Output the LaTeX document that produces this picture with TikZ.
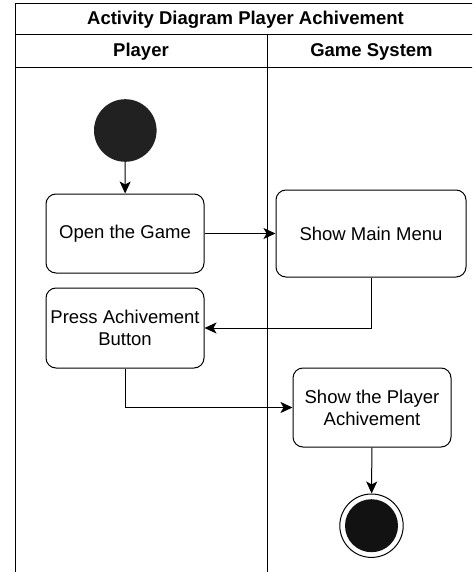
\documentclass[tikz,border=0pt]{standalone}
\usepackage{fontspec}
\setmainfont{Liberation Sans}
\usetikzlibrary{arrows.meta}

\tikzset{
  every picture/.append style={x=1pt, y=-1pt},
  lane/.style={line width=1pt},
  act/.style={draw, line width=1pt, rounded corners=10pt, align=center,
    inner sep=0pt, font=\fontsize{18.5}{22}\selectfont},
  head/.style={font=\bfseries\fontsize{18.5}{22}\selectfont},
  flow/.style={line width=1pt, -{Stealth[length=12pt, width=11pt, inset=3pt]}},
  initial/.style={circle, fill=black!87, minimum size=62.6pt, inner sep=0pt},
  finalout/.style={circle, draw, line width=1pt, minimum size=63.4pt, inner sep=0pt},
  finalin/.style={circle, fill=black!93, minimum size=53pt, inner sep=0pt}
}

\begin{document}
\begin{tikzpicture}
  \useasboundingbox (0,0) rectangle (472,572);
  \clip (0,0) rectangle (472,572);
  % swimlanes
  \draw[lane] (15,600) -- (15,4) -- (490,4);
  \draw[lane] (15,35) -- (490,35);
  \draw[lane] (15,68) -- (490,68);
  \draw[lane] (267,35) -- (267,600);
  \node[head] (title) at(245.5,19.5){Activity Diagram Player Achivement};
  \node[head] (player) at(141,51.5){Player};
  \node[head] (system) at(371.5,51.5){Game System};
  % activities
  \node[initial] (start) at(125.3,130.5){};
  \node[act, minimum width=158pt, minimum height=79pt] (open) at(125,233.5){Open the Game};
  \node[act, minimum width=190pt, minimum height=87pt] (menu) at(371,233.5){Show Main Menu};
  \node[act, minimum width=158pt, minimum height=80pt] (press) at(125,328){Press Achivement\\Button};
  \node[act, minimum width=158pt, minimum height=79pt] (show) at(372,407.5){Show the Player\\Achivement};
  \node[finalout] (final) at(371.5,525.7){};
  \node[finalin] (finaldot) at(final){};
  % flows
  \draw[flow] (start) -- (open);
  \draw[flow] (open) -- (menu);
  \draw[flow] (menu) |- (press);
  \draw[flow] (press) |- (show);
  \draw[flow] (show) -- (final);
\end{tikzpicture}
\end{document}
